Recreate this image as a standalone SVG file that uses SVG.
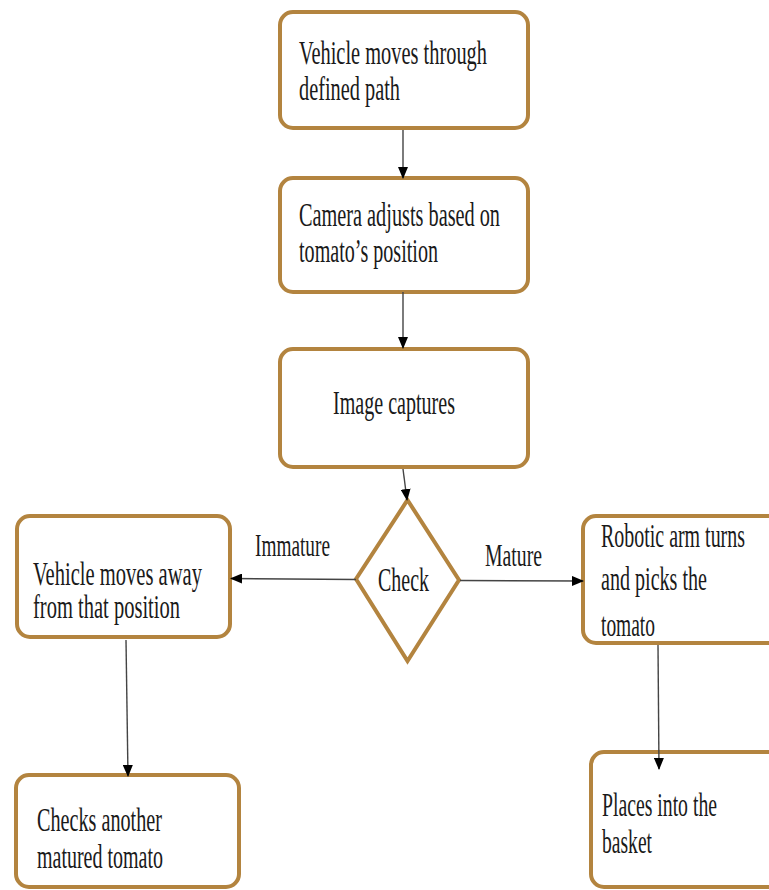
<svg xmlns="http://www.w3.org/2000/svg" width="769" height="890" viewBox="0 0 769 890">
<style>
.box{fill:#ffffff;stroke:#B3843F;stroke-width:4}
.t{font-family:"Liberation Serif","Times New Roman",serif;font-size:34px;fill:#1a1a1a}
.lbl{font-family:"Liberation Serif","Times New Roman",serif;font-size:31px;fill:#1a1a1a}
.c{stroke:#444444;stroke-width:1.4;fill:none}
</style>
<defs>
<marker id="ah" markerWidth="12" markerHeight="10" refX="11" refY="5" orient="auto" markerUnits="userSpaceOnUse">
<path d="M0,0 L12,5 L0,10 Z" fill="#000000"/>
</marker>
</defs>
<rect width="769" height="890" fill="#ffffff"/>
<g id="n1">
<rect class="box" x="280" y="12" width="248" height="116" rx="13"/>
<text class="t" x="299" y="64" textLength="188" lengthAdjust="spacingAndGlyphs">Vehicle moves through</text>
<text class="t" x="299" y="100" textLength="101" lengthAdjust="spacingAndGlyphs">defined path</text>
</g>
<g id="n2">
<rect class="box" x="280" y="178" width="248" height="114" rx="13"/>
<text class="t" x="299" y="226" textLength="201" lengthAdjust="spacingAndGlyphs">Camera adjusts based on</text>
<text class="t" x="299" y="262" textLength="139" lengthAdjust="spacingAndGlyphs">tomato’s position</text>
</g>
<g id="n3">
<rect class="box" x="280" y="349" width="248" height="118" rx="13"/>
<text class="t" x="333" y="414" textLength="122" lengthAdjust="spacingAndGlyphs">Image captures</text>
</g>
<g id="check">
<polygon points="407.5,500 459,580 407.5,661 356,579" fill="#ffffff" stroke="#B3843F" stroke-width="4" stroke-linejoin="miter"/>
<text class="t" x="378" y="591" textLength="51" lengthAdjust="spacingAndGlyphs">Check</text>
</g>
<g id="n_left">
<rect class="box" x="17" y="516" width="213" height="121" rx="13"/>
<text class="t" x="33" y="585" textLength="169" lengthAdjust="spacingAndGlyphs">Vehicle moves away</text>
<text class="t" x="33" y="618" textLength="147" lengthAdjust="spacingAndGlyphs">from that position</text>
</g>
<g id="n_right">
<rect class="box" x="583" y="516" width="200" height="127" rx="13"/>
<text class="t" x="601" y="547" textLength="144" lengthAdjust="spacingAndGlyphs">Robotic arm turns</text>
<text class="t" x="601" y="590" textLength="106" lengthAdjust="spacingAndGlyphs">and picks the</text>
<text class="t" x="601" y="636" textLength="54" lengthAdjust="spacingAndGlyphs">tomato</text>
</g>
<g id="n_bl">
<rect class="box" x="16" y="775" width="223" height="112" rx="13"/>
<text class="t" x="37" y="831" textLength="125" lengthAdjust="spacingAndGlyphs">Checks another</text>
<text class="t" x="37" y="868" textLength="126" lengthAdjust="spacingAndGlyphs">matured tomato</text>
</g>
<g id="n_br">
<rect class="box" x="591" y="752" width="190" height="135" rx="13"/>
<text class="t" x="602" y="816" textLength="115" lengthAdjust="spacingAndGlyphs">Places into the</text>
<text class="t" x="602" y="853" textLength="50" lengthAdjust="spacingAndGlyphs">basket</text>
</g>
<g id="connectors">
<line class="c" x1="403" y1="130" x2="403" y2="178" marker-end="url(#ah)"/>
<line class="c" x1="403" y1="292" x2="403" y2="348" marker-end="url(#ah)"/>
<line class="c" x1="403" y1="469" x2="407" y2="500" marker-end="url(#ah)"/>
<line class="c" x1="356" y1="579.5" x2="231" y2="578.5" marker-end="url(#ah)"/>
<line class="c" x1="460" y1="580.5" x2="583" y2="581" marker-end="url(#ah)"/>
<line class="c" x1="126" y1="640" x2="128" y2="776" marker-end="url(#ah)"/>
<line class="c" x1="658" y1="645" x2="659" y2="769" marker-end="url(#ah)"/>
<text class="lbl" x="255" y="556" textLength="75" lengthAdjust="spacingAndGlyphs">Immature</text>
<text class="lbl" x="485" y="566" textLength="57" lengthAdjust="spacingAndGlyphs">Mature</text>
</g>
</svg>
